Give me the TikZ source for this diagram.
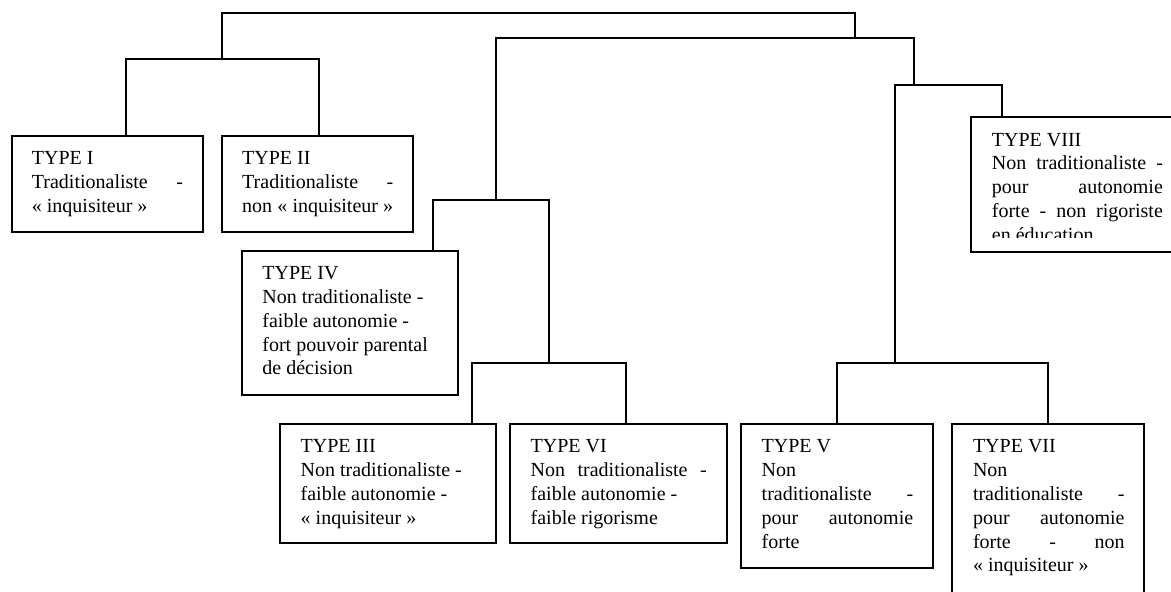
\documentclass[tikz,border=0pt]{standalone}
\usepackage{fontspec}
\setmainfont{Liberation Serif}
\newcommand{\jline}[1]{\makebox[\linewidth][s]{#1}}
\begin{document}
\begin{tikzpicture}[x=1pt,y=-1pt,
  box/.style={draw, line width=2.1pt, anchor=north west, inner sep=0pt, outer sep=0pt},
  conn/.style={line width=1.9pt, line join=miter, line cap=rect},
  txt/.style={anchor=base west, inner sep=0pt, font=\fontsize{20}{23.8}\selectfont}]
\useasboundingbox (0,0) rectangle (1171,592);
\clip (0,0) rectangle (1171,592);

% boxes
\node[box, minimum width=191.3pt, minimum height=95.7pt] (b1) at (11.7,136) {};
\node[box, minimum width=191pt, minimum height=95.7pt] (b2) at (222,136) {};
\node[box, minimum width=216pt, minimum height=144pt] (b4) at (241.7,251) {};
\node[box, minimum width=216pt, minimum height=118.7pt] (b3) at (280,424) {};
\node[box, minimum width=216.7pt, minimum height=118.7pt] (b6) at (510,424) {};
\node[box, minimum width=192.6pt, minimum height=143.4pt] (b5) at (740.7,424.3) {};
\node[box, minimum width=192pt, minimum height=180pt] (b7) at (952.3,424.3) {};
\node[box, minimum width=211pt, minimum height=135pt] (b8) at (971,116.7) {};

% texts
\node[txt] (t1) at ([xshift=20pt,yshift=-28.6pt]b1.north west)
  {\parbox[t]{151pt}{TYPE I\\\jline{Traditionaliste -}\\« inquisiteur »}};
\node[txt] (t2) at ([xshift=20pt,yshift=-28.6pt]b2.north west)
  {\parbox[t]{151pt}{TYPE II\\\jline{Traditionaliste -}\\\jline{non « inquisiteur »}}};
\node[txt] (t4) at ([xshift=20.5pt,yshift=-28.6pt]b4.north west)
  {\parbox[t]{175pt}{TYPE IV\\Non traditionaliste -\\faible autonomie -\\fort pouvoir parental\\de décision}};
\node[txt] (t3) at ([xshift=20.5pt,yshift=-28.8pt]b3.north west)
  {\parbox[t]{175pt}{TYPE III\\Non traditionaliste -\\faible autonomie -\\« inquisiteur »}};
\node[txt] (t6) at ([xshift=20.5pt,yshift=-28.8pt]b6.north west)
  {\parbox[t]{176pt}{TYPE VI\\\jline{Non traditionaliste -}\\faible autonomie -\\faible rigorisme}};
\node[txt] (t5) at ([xshift=20.8pt,yshift=-28.6pt]b5.north west)
  {\parbox[t]{151.5pt}{TYPE V\\Non\\\jline{traditionaliste -}\\\jline{pour autonomie}\\forte}};
\node[txt] (t7) at ([xshift=20.5pt,yshift=-28.6pt]b7.north west)
  {\parbox[t]{151.5pt}{TYPE VII\\Non\\\jline{traditionaliste -}\\\jline{pour autonomie}\\\jline{forte - non}\\« inquisiteur »}};
\begin{scope}
  \clip (b8.north west) rectangle ([yshift=14pt]b8.south east);
  \node[txt] (t8) at ([xshift=20.7pt,yshift=-29.3pt]b8.north west)
    {\parbox[t]{171pt}{TYPE VIII\\\jline{Non traditionaliste -}\\\jline{pour autonomie}\\\jline{forte - non rigoriste}\\en éducation}};
\end{scope}

% junction coordinates
\coordinate (kI) at (126,59.3);
\coordinate (kII) at (318.7,59.3);
\coordinate (r1) at (222.3,12.7);
\coordinate (r2) at (854.7,12.7);
\coordinate (s1) at (495.7,38.3);
\coordinate (s2) at (914,38.3);
\coordinate (kIV) at (433.3,200);
\coordinate (kIVb) at (549,200);
\coordinate (kIII) at (472,363.3);
\coordinate (kVI) at (625.7,363.3);
\coordinate (kR) at (895,85);
\coordinate (kVIII) at (1002.3,85);
\coordinate (kV) at (836.7,363.3);
\coordinate (kVII) at (1048.3,363.3);

% connectors
\draw[conn] (kI |- b1.north) -- (kI) -- (kII) -- (kII |- b2.north);
\draw[conn] (r1 |- kI) -- (r1) -- (r2) -- (r2 |- s1);
\draw[conn] (s1 |- kIV) -- (s1) -- (s2) -- (s2 |- kR);
\draw[conn] (kIV |- b4.north) -- (kIV) -- (kIVb) -- (kIVb |- kIII);
\draw[conn] (kIII |- b3.north) -- (kIII) -- (kVI) -- (kVI |- b6.north);
\draw[conn] (kR |- kV) -- (kR) -- (kVIII) -- (kVIII |- b8.north);
\draw[conn] (kV |- b5.north) -- (kV) -- (kVII) -- (kVII |- b7.north);
\end{tikzpicture}
\end{document}
